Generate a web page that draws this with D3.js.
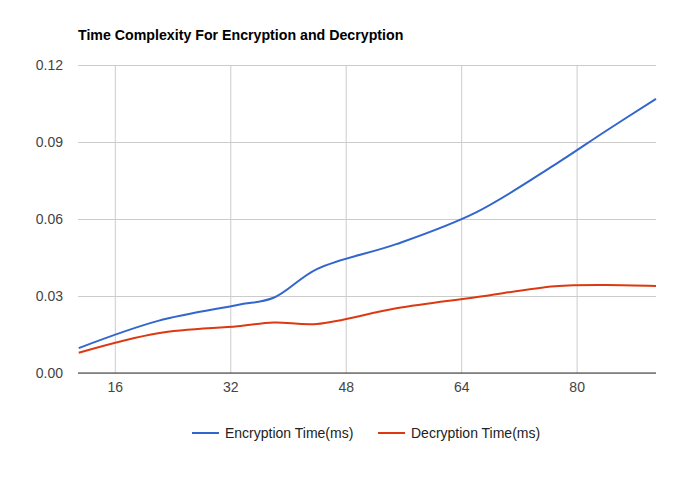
<!DOCTYPE html>
<html lang="en">
<head>
  <meta charset="UTF-8">
  <title>Time Complexity For Encryption and Decryption</title>
  <script src="https://cdn.jsdelivr.net/npm/d3@7"></script>
  <style>
    body { margin: 0; background: #fff; }
    text { font-family: Arial, "Liberation Sans", sans-serif; }
  </style>
</head>
<body>
  <svg width="685" height="479"></svg>
  <script>
    // data
    var sizes = [11, 22, 33, 38, 44, 55, 66, 77, 84, 91];
    var encryption = [0.0097, 0.0203, 0.0265, 0.0293, 0.0405, 0.0502, 0.0625, 0.0812, 0.0942, 0.1068];
    var decryption = [0.0079, 0.0155, 0.0182, 0.0197, 0.0191, 0.0252, 0.0295, 0.0338, 0.0343, 0.0339];
    var xTicks = [16, 32, 48, 64, 80];
    var yTicks = [0, 0.03, 0.06, 0.09, 0.12];
    var seriesNames = ['Encryption Time(ms)', 'Decryption Time(ms)'];
    var colors = ['#3366cc', '#dc3912'];

    var margin = { top: 65, right: 29, bottom: 106, left: 78 };
    var svg = d3.select('svg');
    var width = +svg.attr('width') - margin.left - margin.right;
    var height = +svg.attr('height') - margin.top - margin.bottom;

    svg.append('text')
      .attr('x', margin.left)
      .attr('y', 40)
      .attr('font-size', 14.2)
      .attr('font-weight', 'bold')
      .attr('fill', '#000')
      .text('Time Complexity For Encryption and Decryption');

    var chart = svg.append('g')
      .attr('transform', 'translate(' + margin.left + ',' + margin.top + ')');

    var x = d3.scaleLinear().domain([10.9, 91]).range([0, width]);
    var y = d3.scaleLinear().domain([0, 0.12]).range([height, 0]);

    function styleTicks(g) {
      g.select('.domain').remove();
      g.selectAll('.tick line').attr('stroke', '#cccccc');
      g.selectAll('.tick text').attr('fill', '#444').attr('font-size', 14)
        .style('font-family', 'Arial, "Liberation Sans", sans-serif');
    }

    // horizontal grid + y labels
    chart.append('g')
      .call(d3.axisLeft(y).tickValues(yTicks).tickSize(-width).tickPadding(15)
        .tickFormat(d3.format('.2f')))
      .call(styleTicks);

    // vertical grid + x labels
    chart.append('g')
      .attr('transform', 'translate(0,' + height + ')')
      .call(d3.axisBottom(x).tickValues(xTicks).tickSize(-height).tickPadding(9))
      .call(styleTicks);

    // baseline
    chart.append('line')
      .attr('x1', 0).attr('x2', width)
      .attr('y1', y(0)).attr('y2', y(0))
      .attr('stroke', '#333').attr('stroke-width', 1);

    var line = d3.line()
      .x(function(d) { return x(d[0]); })
      .y(function(d) { return y(d[1]); })
      .curve(d3.curveCatmullRom.alpha(0.5));

    [encryption, decryption].forEach(function(values, i) {
      chart.append('path')
        .datum(sizes.map(function(s, j) { return [s, values[j]]; }))
        .attr('fill', 'none')
        .attr('stroke', colors[i])
        .attr('stroke-width', 2)
        .attr('stroke-linejoin', 'round')
        .attr('d', line);
    });

    // legend
    var legendX = [192, 378];
    var legend = svg.append('g');
    seriesNames.forEach(function(name, i) {
      legend.append('line')
        .attr('x1', legendX[i]).attr('x2', legendX[i] + 27)
        .attr('y1', 433).attr('y2', 433)
        .attr('stroke', colors[i]).attr('stroke-width', 2);
      legend.append('text')
        .attr('x', legendX[i] + 33)
        .attr('y', 438)
        .attr('font-size', 14)
        .attr('fill', '#222')
        .text(name);
    });
  </script>
</body>
</html>
